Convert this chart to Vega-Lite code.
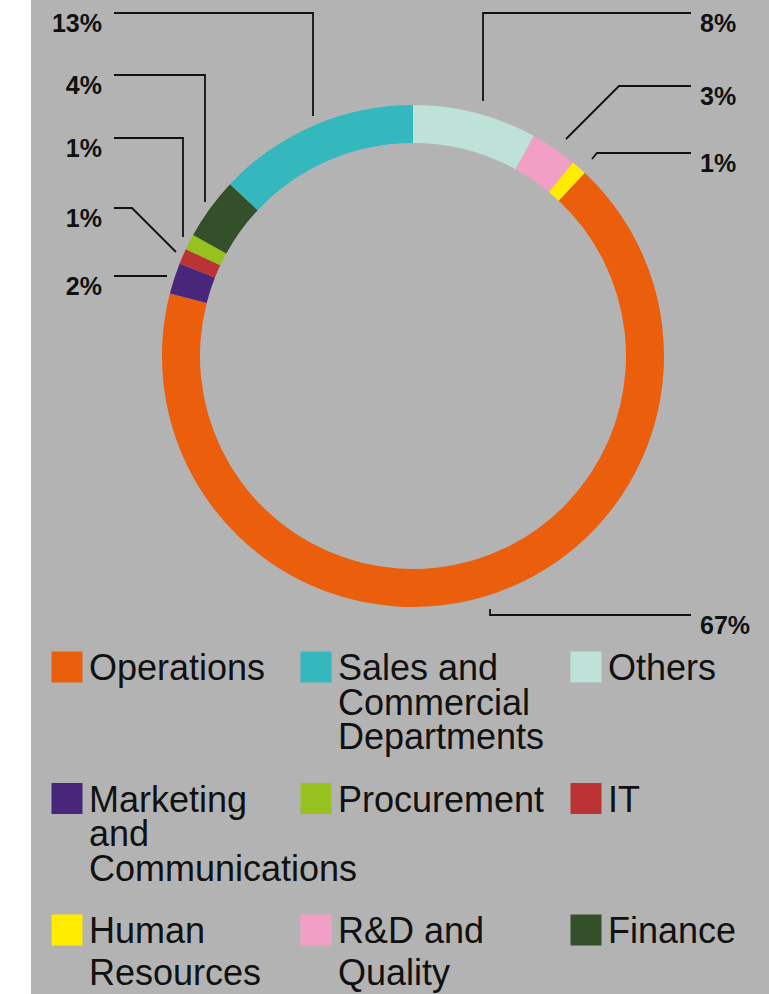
{
  "$schema": "https://vega.github.io/schema/vega-lite/v6.json",
  "width": 738,
  "height": 994,
  "autosize": {"type": "none"},
  "padding": {"left": 31, "top": 0, "right": 0, "bottom": 0},
  "background": "white",
  "config": {
    "view": {"fill": "#b3b3b3", "stroke": null},
    "font": "Liberation Sans",
    "legend": {
      "title": null,
      "orient": "none",
      "gridAlign": "all",
      "rowPadding": 20.5,
      "padding": 0,
      "offset": 0,
      "symbolType": "M-1,-1H1V1H-1Z M0,6L0,6",
      "symbolSize": 961,
      "symbolStrokeWidth": 0,
      "symbolOpacity": 1,
      "labelFont": "Liberation Sans",
      "labelFontSize": 36,
      "labelColor": "#111111",
      "labelOffset": 4,
      "labelLimit": 400,
      "labelBaseline": "top"
    }
  },
  "datasets": {
    "slices": [
      {"dept": "Others", "share": 8},
      {"dept": "R&D and Quality", "share": 3},
      {"dept": "Human Resources", "share": 1},
      {"dept": "Operations", "share": 67},
      {"dept": "Marketing and Communications", "share": 2},
      {"dept": "IT", "share": 1},
      {"dept": "Procurement", "share": 1},
      {"dept": "Finance", "share": 4},
      {"dept": "Sales and Commercial Departments", "share": 13}
    ],
    "leaders": [
      {"id": "Sales", "pct": "13%", "k": 0, "x": -299, "y": -343},
      {"id": "Sales", "pct": "13%", "k": 1, "x": -100, "y": -343},
      {"id": "Sales", "pct": "13%", "k": 2, "x": -100, "y": -240},
      {"id": "Finance", "pct": "4%", "k": 0, "x": -299, "y": -281},
      {"id": "Finance", "pct": "4%", "k": 1, "x": -208, "y": -281},
      {"id": "Finance", "pct": "4%", "k": 2, "x": -208, "y": -154},
      {"id": "Procurement", "pct": "1%", "k": 0, "x": -299, "y": -218},
      {"id": "Procurement", "pct": "1%", "k": 1, "x": -230, "y": -218},
      {"id": "Procurement", "pct": "1%", "k": 2, "x": -230, "y": -119},
      {"id": "IT", "pct": "1%", "k": 0, "x": -299, "y": -148},
      {"id": "IT", "pct": "1%", "k": 1, "x": -281, "y": -148},
      {"id": "IT", "pct": "1%", "k": 2, "x": -237, "y": -104},
      {"id": "Marketing", "pct": "2%", "k": 0, "x": -299, "y": -80},
      {"id": "Marketing", "pct": "2%", "k": 1, "x": -246, "y": -80},
      {"id": "Others", "pct": "8%", "k": 0, "x": 278, "y": -343},
      {"id": "Others", "pct": "8%", "k": 1, "x": 70, "y": -343},
      {"id": "Others", "pct": "8%", "k": 2, "x": 70, "y": -255},
      {"id": "RD", "pct": "3%", "k": 0, "x": 278, "y": -270},
      {"id": "RD", "pct": "3%", "k": 1, "x": 206, "y": -270},
      {"id": "RD", "pct": "3%", "k": 2, "x": 153, "y": -217},
      {"id": "HR", "pct": "1%", "k": 0, "x": 278, "y": -203},
      {"id": "HR", "pct": "1%", "k": 1, "x": 184, "y": -203},
      {"id": "HR", "pct": "1%", "k": 2, "x": 179, "y": -197},
      {"id": "Operations", "pct": "67%", "k": 0, "x": 278, "y": 259},
      {"id": "Operations", "pct": "67%", "k": 1, "x": 77, "y": 259},
      {"id": "Operations", "pct": "67%", "k": 2, "x": 77, "y": 253}
    ]
  },
  "layer": [
    {
      "data": {"name": "slices"},
      "transform": [
        {"window": [{"op": "row_number", "as": "rank"}]},
        {"stack": "share", "groupby": [], "sort": [{"field": "rank", "order": "ascending"}], "as": ["t0", "t1"]},
        {"filter": {"field": "dept", "oneOf": ["Operations", "Marketing and Communications", "Human Resources"]}}
      ],
      "mark": {"type": "arc", "radius": 251, "radius2": 213, "strokeWidth": 0},
      "encoding": {
        "x": {"datum": 0, "type": "quantitative", "scale": {"domain": [-382, 356], "nice": false, "zero": false}, "axis": null},
        "y": {"datum": 0, "type": "quantitative", "scale": {"domain": [-356, 638], "nice": false, "zero": false, "reverse": true}, "axis": null},
        "theta": {"field": "t0", "type": "quantitative", "stack": null, "scale": {"domain": [0, 100]}},
        "theta2": {"field": "t1"},
        "fill": {
          "field": "dept",
          "type": "nominal",
          "scale": {
            "domain": ["Operations", "Marketing and Communications", "Human Resources"],
            "range": ["#eb5e0c", "#48267a", "#ffec00"]
          },
          "legend": {
            "legendX": 18,
            "legendY": 649,
            "columns": 1,
            "direction": "vertical",
            "labelExpr": "datum.label == 'Marketing and Communications' ? ['Marketing', 'and', 'Communications'] : datum.label == 'Human Resources' ? ['Human', 'Resources'] : datum.label",
            "encode": {
              "labels": {
                "update": {
                  "lineHeight": {"signal": "datum.value == 'Human Resources' ? 42 : 34.5"},
                  "dy": {"value": -15}
                }
              }
            }
          }
        }
      }
    },
    {
      "data": {"name": "slices"},
      "transform": [
        {"window": [{"op": "row_number", "as": "rank"}]},
        {"stack": "share", "groupby": [], "sort": [{"field": "rank", "order": "ascending"}], "as": ["t0", "t1"]},
        {"filter": {"field": "dept", "oneOf": ["Sales and Commercial Departments", "Others", "Procurement", "IT", "R&D and Quality", "Finance"]}}
      ],
      "mark": {"type": "arc", "radius": 251, "radius2": 213, "strokeWidth": 0},
      "encoding": {
        "x": {"datum": 0, "type": "quantitative", "scale": {"domain": [-382, 356], "nice": false, "zero": false}, "axis": null},
        "y": {"datum": 0, "type": "quantitative", "scale": {"domain": [-356, 638], "nice": false, "zero": false, "reverse": true}, "axis": null},
        "theta": {"field": "t0", "type": "quantitative", "stack": null, "scale": {"domain": [0, 100]}},
        "theta2": {"field": "t1"},
        "color": {
          "field": "dept",
          "type": "nominal",
          "scale": {
            "domain": ["Sales and Commercial Departments", "Others", "Procurement", "IT", "R&D and Quality", "Finance"],
            "range": ["#34b8be", "#bee1d8", "#96c11f", "#bc3333", "#f29fc5", "#33502a"]
          },
          "legend": {
            "legendX": 267,
            "legendY": 649,
            "columns": 2,
            "direction": "horizontal",
            "columnPadding": 23,
            "labelExpr": "datum.label == 'Sales and Commercial Departments' ? ['Sales and', 'Commercial', 'Departments'] : datum.label == 'R&D and Quality' ? ['R&D and', 'Quality'] : datum.label",
            "encode": {
              "labels": {
                "update": {
                  "lineHeight": {"signal": "datum.value == 'R&D and Quality' ? 42 : 34.5"},
                  "dy": {"value": -15}
                }
              }
            }
          }
        }
      }
    },
    {
      "data": {"name": "leaders"},
      "mark": {"type": "line", "color": "#111111", "strokeWidth": 1.8},
      "encoding": {
        "x": {"field": "x", "type": "quantitative", "scale": {"domain": [-382, 356], "nice": false, "zero": false}, "axis": null},
        "y": {"field": "y", "type": "quantitative", "scale": {"domain": [-356, 638], "nice": false, "zero": false, "reverse": true}, "axis": null},
        "detail": {"field": "id"},
        "order": {"field": "k", "type": "quantitative"}
      }
    },
    {
      "data": {"name": "leaders"},
      "transform": [{"filter": "datum.k == 0 && datum.x < 0"}],
      "mark": {"type": "text", "align": "right", "baseline": "alphabetic", "dx": -12, "dy": 19, "fontSize": 25, "fontWeight": "bold", "color": "#111111", "font": "Liberation Sans"},
      "encoding": {
        "x": {"field": "x", "type": "quantitative", "scale": {"domain": [-382, 356], "nice": false, "zero": false}, "axis": null},
        "y": {"field": "y", "type": "quantitative", "scale": {"domain": [-356, 638], "nice": false, "zero": false, "reverse": true}, "axis": null},
        "text": {"field": "pct"}
      }
    },
    {
      "data": {"name": "leaders"},
      "transform": [{"filter": "datum.k == 0 && datum.x > 0"}],
      "mark": {"type": "text", "align": "left", "baseline": "alphabetic", "dx": 9, "dy": 19, "fontSize": 25, "fontWeight": "bold", "color": "#111111", "font": "Liberation Sans"},
      "encoding": {
        "x": {"field": "x", "type": "quantitative", "scale": {"domain": [-382, 356], "nice": false, "zero": false}, "axis": null},
        "y": {"field": "y", "type": "quantitative", "scale": {"domain": [-356, 638], "nice": false, "zero": false, "reverse": true}, "axis": null},
        "text": {"field": "pct"}
      }
    }
  ]
}
